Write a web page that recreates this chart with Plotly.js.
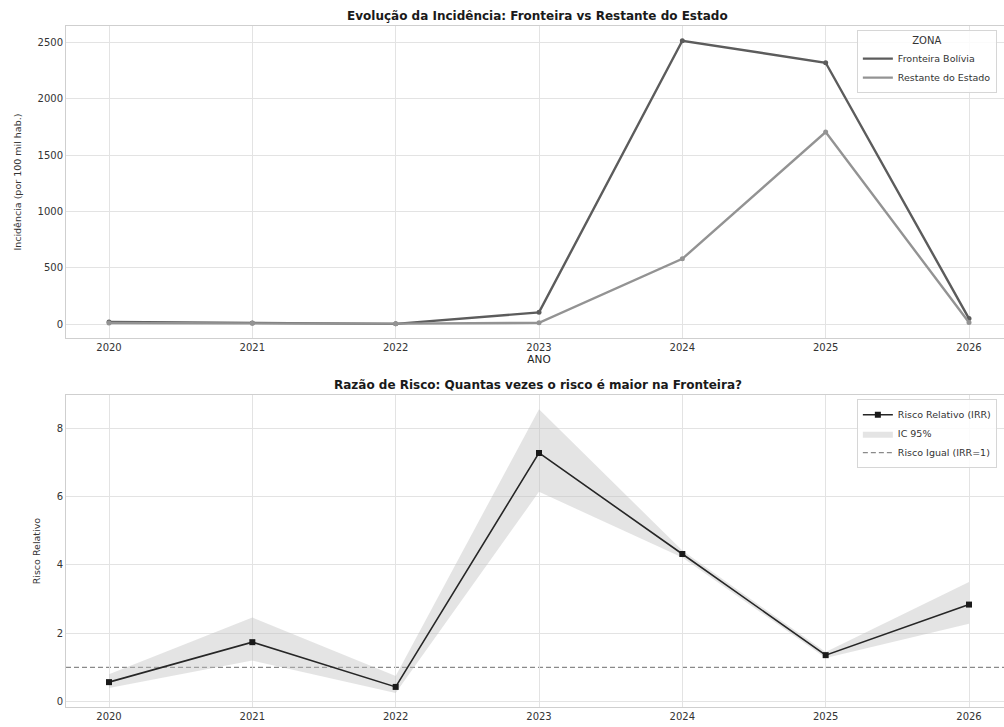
<!DOCTYPE html>
<html>
<head>
<meta charset="utf-8">
<script src="https://cdn.plot.ly/plotly-3.0.1.min.js"></script>
<style>
  html, body { margin: 0; padding: 0; background: #ffffff; overflow: hidden; }
  #chart { width: 1016px; height: 727px; }
</style>
</head>
<body>
<div id="chart"></div>
<script>
// Years shared by both panels
const anos = [2020, 2021, 2022, 2023, 2024, 2025, 2026];

// Incidence per 100k inhabitants by zone
const fronteiraBolivia = [20, 10, 3, 105, 2515, 2320, 50];
const restanteEstado   = [10, 8, 5, 12, 580, 1705, 15];

// Incidence rate ratio and its 95% confidence interval
const irr      = [0.57, 1.74, 0.43, 7.28, 4.32, 1.36, 2.84];
const icInf    = [0.40, 1.20, 0.25, 6.14, 4.22, 1.28, 2.28];
const icSup    = [0.80, 2.46, 0.75, 8.56, 4.42, 1.45, 3.50];
const irrIgual = 1;

const fonte = 'DejaVu Sans, sans-serif';
const grade = '#e3e3e3';
const borda = '#cfcfcf';

// one zone = a line (shown in the legend) plus its point markers
function zona(nome, valores, cor) {
  return [
    {
      x: anos, y: valores, name: nome,
      type: 'scatter', mode: 'lines',
      line: { color: cor, width: 2.4 },
      xaxis: 'x', yaxis: 'y', legend: 'legend'
    },
    {
      x: anos, y: valores, name: nome,
      type: 'scatter', mode: 'markers',
      marker: { color: cor, size: 5 },
      showlegend: false,
      xaxis: 'x', yaxis: 'y'
    }
  ];
}

const traces = [
  ...zona('Fronteira Bolívia', fronteiraBolivia, '#5c5c5c'),
  ...zona('Restante do Estado', restanteEstado, '#939393'),
  {
    x: anos, y: icInf, name: 'IC 95% inf',
    type: 'scatter', mode: 'lines',
    line: { width: 0, color: 'rgba(0,0,0,0)' },
    showlegend: false, hoverinfo: 'skip',
    xaxis: 'x2', yaxis: 'y2', legend: 'legend2'
  },
  {
    x: anos, y: icSup, name: 'IC 95%',
    type: 'scatter', mode: 'lines', fill: 'tonexty',
    fillcolor: 'rgba(190,190,190,0.42)',
    line: { width: 0, color: 'rgba(0,0,0,0)' },
    legendrank: 2,
    xaxis: 'x2', yaxis: 'y2', legend: 'legend2'
  },
  {
    x: anos, y: irr, name: 'Risco Relativo (IRR)',
    type: 'scatter', mode: 'lines+markers',
    line: { color: '#262626', width: 1.6 },
    marker: { color: '#1a1a1a', size: 6, symbol: 'square' },
    legendrank: 1,
    xaxis: 'x2', yaxis: 'y2', legend: 'legend2'
  }
];

const eixoX = {
  range: [2019.7, 2026.3],
  tickmode: 'array', tickvals: anos, ticktext: anos.map(String),
  showgrid: true, gridcolor: grade, gridwidth: 1,
  showline: true, linecolor: borda, linewidth: 1, mirror: true,
  zeroline: false, ticks: '',
  tickfont: { family: fonte, size: 10, color: '#333333' }
};

const layout = {
  width: 1016, height: 727,
  paper_bgcolor: '#ffffff', plot_bgcolor: '#ffffff',
  font: { family: fonte, color: '#333333' },
  margin: { l: 66, r: 4, t: 26, b: 20.3 },
  showlegend: true,
  xaxis: Object.assign({}, eixoX, {
    domain: [0, 1], anchor: 'y',
    title: { text: 'ANO', font: { family: fonte, size: 10.5, color: '#222222' }, standoff: 2 }
  }),
  yaxis: {
    domain: [0.5416, 1], anchor: 'x',
    range: [-124, 2646],
    tickvals: [0, 500, 1000, 1500, 2000, 2500],
    showgrid: true, gridcolor: grade, gridwidth: 1,
    showline: true, linecolor: borda, linewidth: 1, mirror: true,
    zeroline: false, ticks: '',
    tickfont: { family: fonte, size: 10, color: '#333333' },
    title: { text: 'Incidência (por 100 mil hab.)', font: { family: fonte, size: 9.5, color: '#333333' }, standoff: 14 }
  },
  xaxis2: Object.assign({}, eixoX, { domain: [0, 1], anchor: 'y2' }),
  yaxis2: {
    domain: [0, 0.4579], anchor: 'x2',
    range: [-0.158, 8.97],
    tickvals: [0, 2, 4, 6, 8],
    showgrid: true, gridcolor: grade, gridwidth: 1,
    showline: true, linecolor: borda, linewidth: 1, mirror: true,
    zeroline: false, ticks: '',
    tickfont: { family: fonte, size: 10, color: '#333333' },
    title: { text: 'Risco Relativo', font: { family: fonte, size: 9.5, color: '#333333' }, standoff: 14 }
  },
  legend: {
    x: 0.836, y: 0.994, xanchor: 'left', yanchor: 'top',
    bgcolor: 'rgba(255,255,255,0.85)', bordercolor: '#d6d6d6', borderwidth: 1,
    font: { family: fonte, size: 9.5, color: '#333333' },
    title: { text: 'ZONA', side: 'top center', font: { family: fonte, size: 10, color: '#333333' } },
    itemwidth: 30, tracegroupgap: 0, traceorder: 'normal'
  },
  legend2: {
    x: 0.836, y: 0.452, xanchor: 'left', yanchor: 'top',
    bgcolor: 'rgba(255,255,255,0.85)', bordercolor: '#d6d6d6', borderwidth: 1,
    font: { family: fonte, size: 9.5, color: '#333333' },
    itemwidth: 30, tracegroupgap: 0, traceorder: 'normal'
  },
  shapes: [
    {
      type: 'line', xref: 'x2 domain', yref: 'y2',
      x0: 0, x1: 1, y0: irrIgual, y1: irrIgual,
      line: { color: '#8a8a8a', width: 1.3, dash: '5px,3px' },
      layer: 'below',
      showlegend: true, name: 'Risco Igual (IRR=1)', legend: 'legend2', legendrank: 3
    }
  ],
  annotations: [
    {
      text: '<b>Evolução da Incidência: Fronteira vs Restante do Estado</b>',
      xref: 'paper', yref: 'paper', x: 0.4985, y: 1, yanchor: 'bottom', yshift: 1,
      showarrow: false, font: { family: fonte, size: 12, color: '#1a1a1a' }
    },
    {
      text: '<b>Razão de Risco: Quantas vezes o risco é maior na Fronteira?</b>',
      xref: 'paper', yref: 'paper', x: 0.4985, y: 0.4579, yanchor: 'bottom', yshift: 1,
      showarrow: false, font: { family: fonte, size: 12, color: '#1a1a1a' }
    }
  ]
};

Plotly.newPlot('chart', traces, layout, { displayModeBar: false, staticPlot: true });
</script>
</body>
</html>
